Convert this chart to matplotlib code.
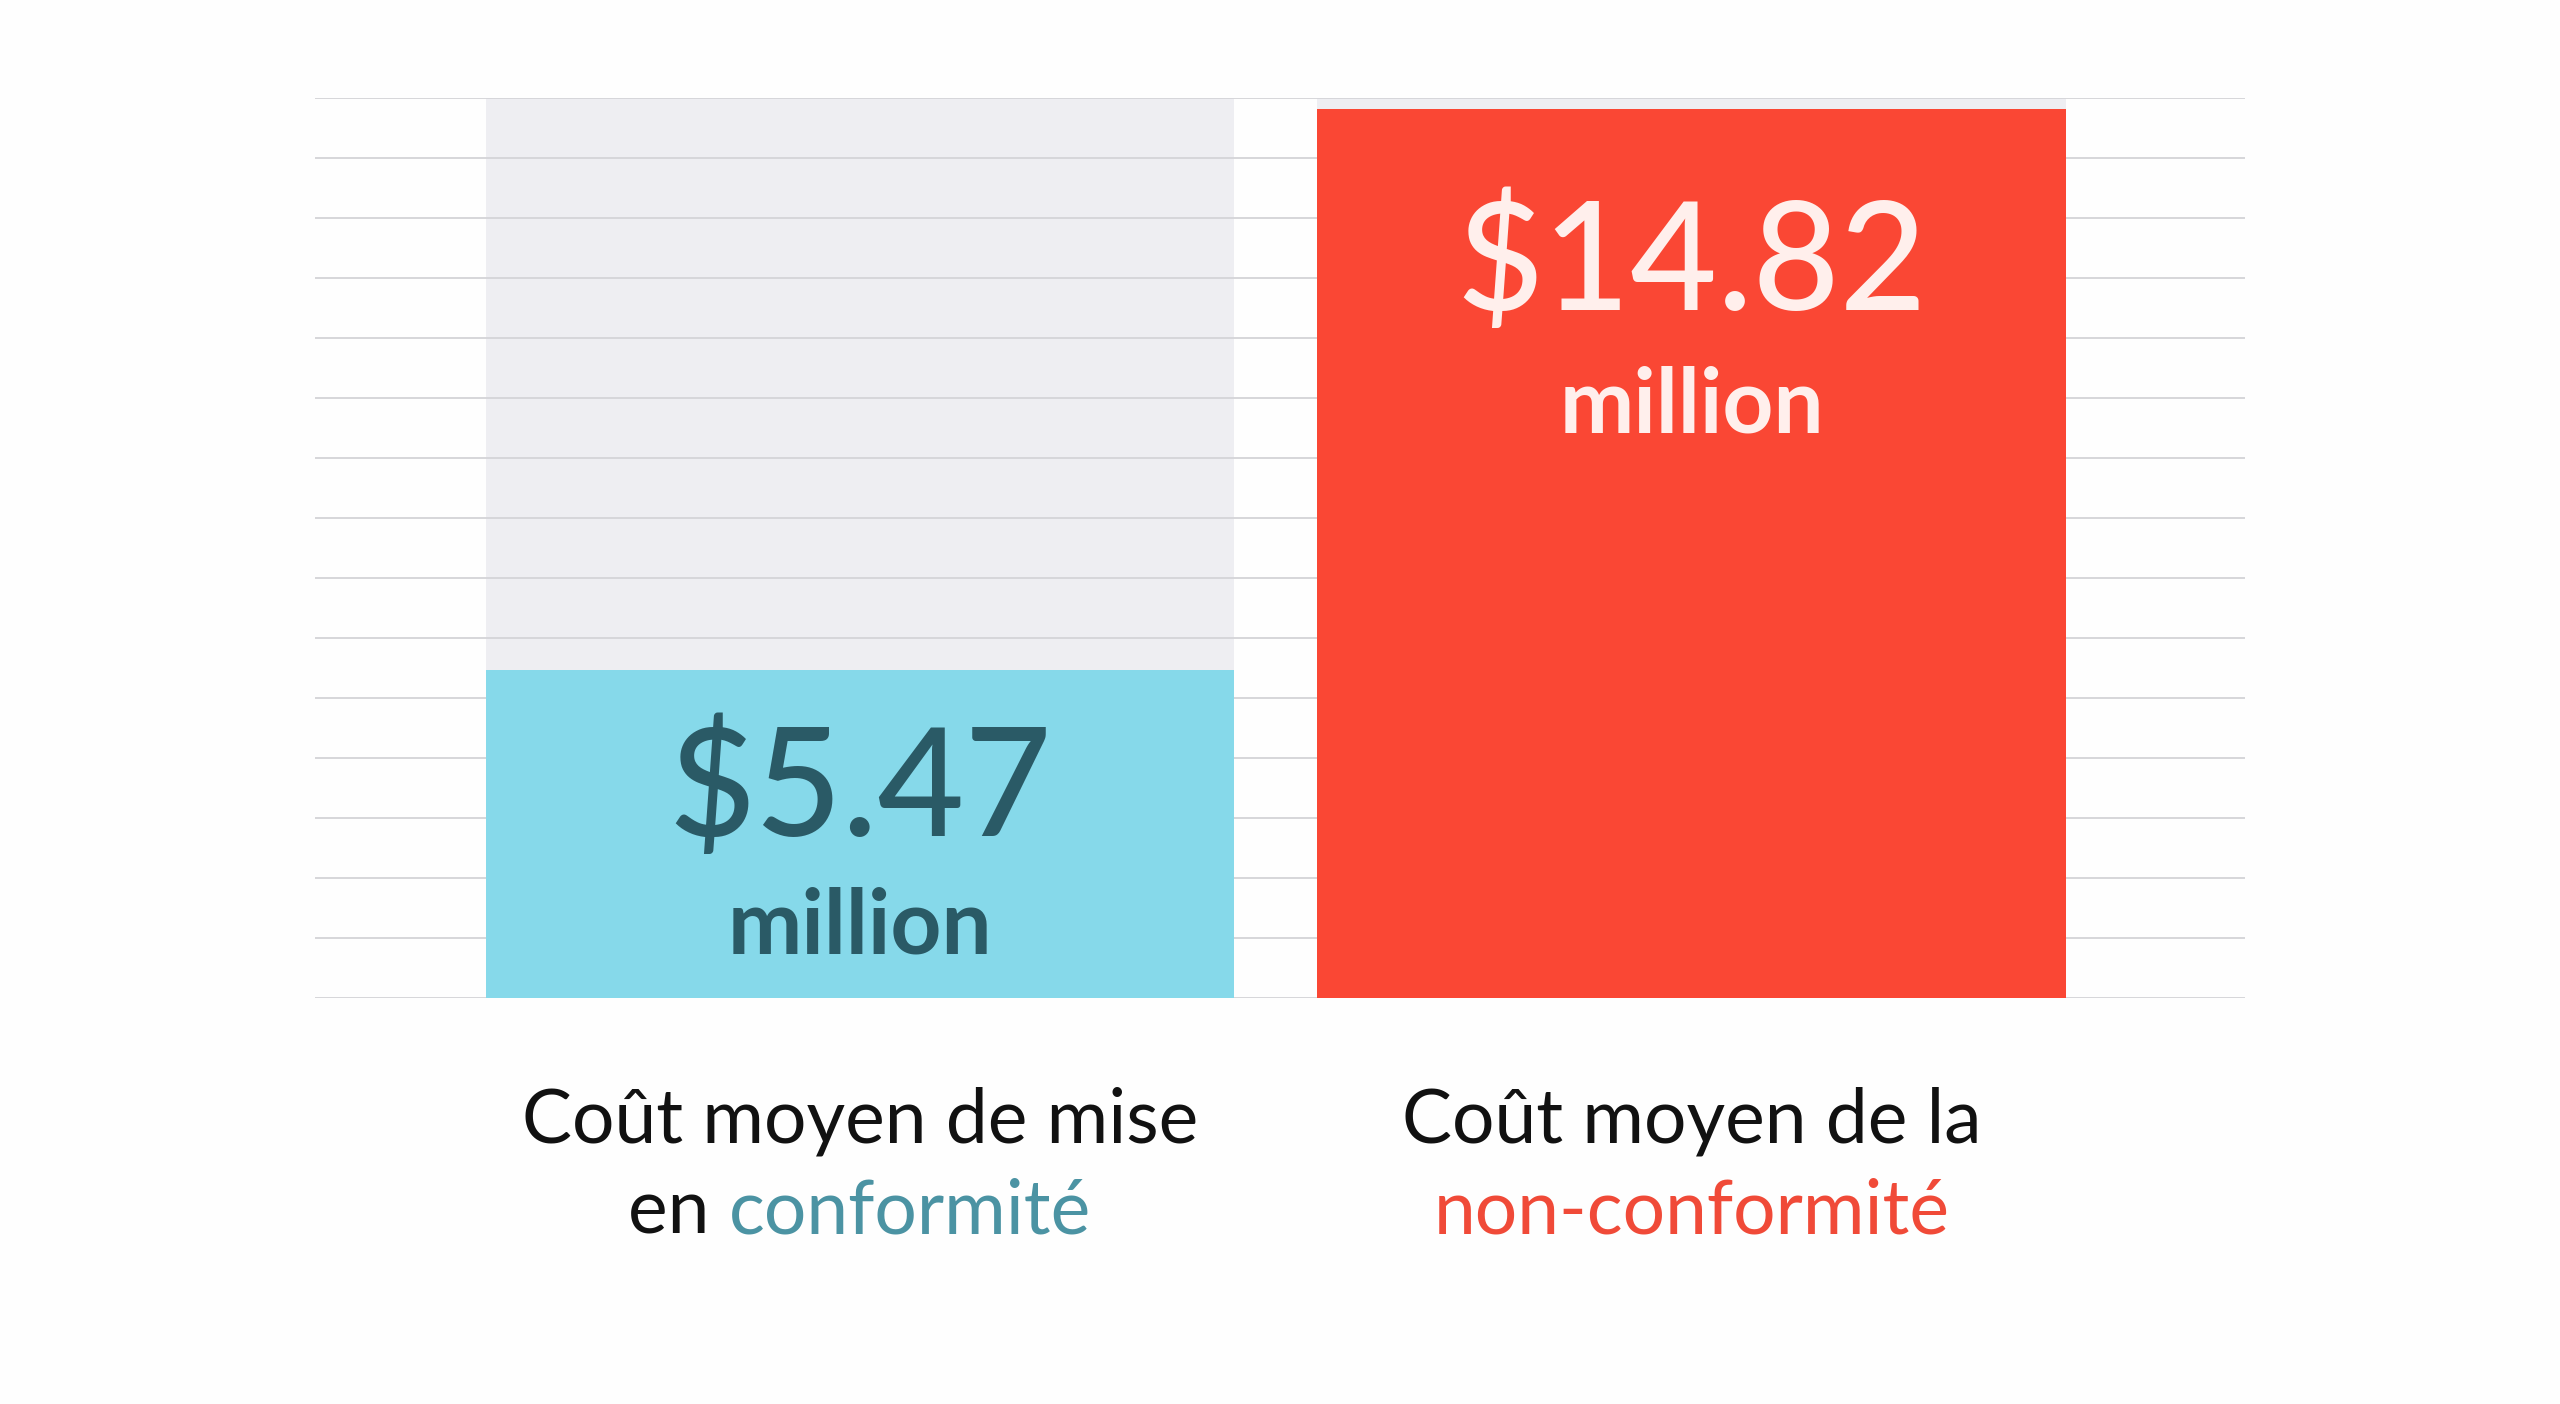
import matplotlib
matplotlib.use("Agg")
import matplotlib.pyplot as plt

categories = ["Coût moyen de mise en conformité", "Coût moyen de la non-conformité"]
values = [5.47, 14.82]
value_labels = ["$5.47", "$14.82"]
unit_label = "million"
track_max = 15
grid_ticks = list(range(0, 16))

bar_colors = ["#86D9EA", "#FA4734"]
text_colors = ["#2A5A66", "#FFEFEC"]
accent_colors = ["#4B93A3", "#F04A38"]

plt.rcParams['font.family'] = ['Lato', 'DejaVu Sans']

fig = plt.figure(figsize=(25.6, 14.04), dpi=100, facecolor="#FEFEFE")
ax = fig.add_axes([315/2560, 1 - 998/1404, 1930/2560, 900/1404])
ax.set_facecolor("none")
x = [0, 1]
ax.set_xlim(-0.655, 1.665)
ax.set_ylim(0, track_max)

ax.bar(x, [track_max]*2, width=0.9, color="#EEEEF2", zorder=1)
for t in grid_ticks:
    ax.axhline(t, color="#D6D6DA", lw=1.4, zorder=2)
ax.bar(x, values, width=0.9, color=bar_colors, zorder=3)

for xi, v, lab, tc, (o1, o2) in zip(x, values, value_labels, text_colors, [(2.77, 1.95), (3.35, 2.05)]):
    ax.text(xi, v - o1, lab, ha='center', va='baseline', fontsize=108, color=tc,
            fontweight='medium', zorder=4)
    ax.text(xi, v - o1 - o2, unit_label, ha='center', va='baseline', fontsize=64,
            color=tc, fontweight='bold', zorder=4)

ax.set_xticks([])
ax.set_yticks([])
for s in ax.spines.values():
    s.set_visible(False)

# category labels (two lines, second line partly coloured)
lines = [("Coût moyen de mise", "en ", "conformité"), ("Coût moyen de la", "", "non-conformité")]
fs = 54
fw = 'normal'
y1 = 1 - 1143/1404
y2 = 1 - 1233/1404
renderer = fig.canvas.get_renderer()
for xi, (l1, pre, acc), ac in zip(x, lines, accent_colors):
    xc = ax.transData.transform((xi, 0))[0] / fig.bbox.width
    fig.text(xc, y1, l1, ha='center', va='baseline', fontsize=fs, color="#111111", fontweight=fw)
    t_pre = fig.text(0, y2, pre, ha='left', va='baseline', fontsize=fs, color="#111111", fontweight=fw)
    t_acc = fig.text(0, y2, acc, ha='left', va='baseline', fontsize=fs, color=ac, fontweight=fw)
    w_pre = t_pre.get_window_extent(renderer).width / fig.bbox.width if pre else 0
    w_acc = t_acc.get_window_extent(renderer).width / fig.bbox.width
    start = xc - (w_pre + w_acc) / 2
    t_pre.set_x(start)
    t_acc.set_x(start + w_pre)

fig.savefig("out.png", dpi=100, facecolor=fig.get_facecolor())
